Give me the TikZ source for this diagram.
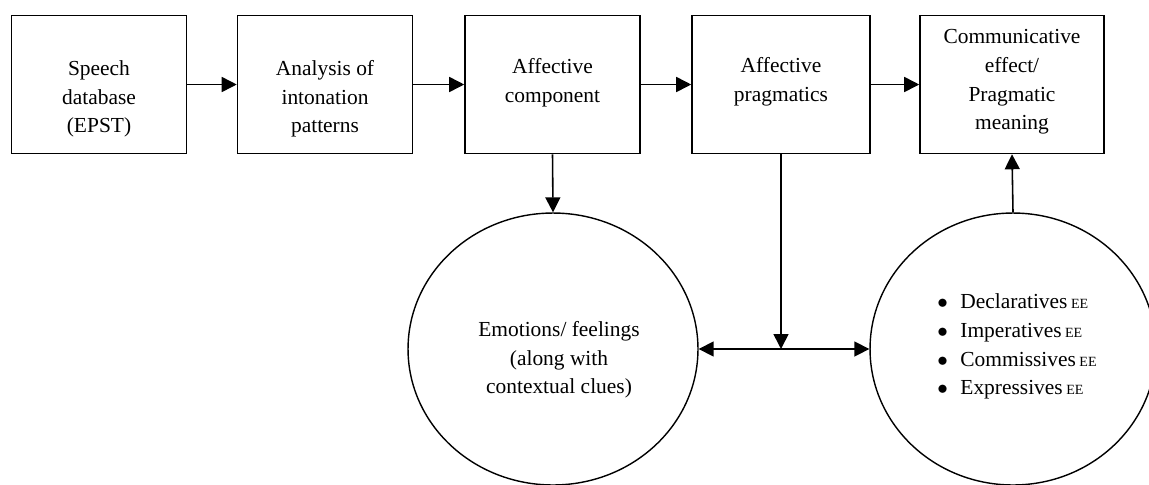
\documentclass[tikz,border=0pt]{standalone}
\usepackage{fontspec}
\setmainfont{Liberation Serif}
\usepackage{tikz}
\usetikzlibrary{shapes.geometric}
\usetikzlibrary{arrows.meta}

\newcommand{\ee}{{\fontsize{8}{8}\selectfont\ EE}}

\begin{document}
\begin{tikzpicture}[x=0.02cm,y=-0.02cm,
        box/.style={draw,line width=0.9pt,minimum width=3.5cm,minimum height=2.76cm,inner sep=0pt},
        blob/.style={draw,ellipse,line width=0.8pt,minimum width=5.8cm,minimum height=5.44cm,inner sep=0pt},
        txt/.style={align=center,font=\fontsize{12.2}{16.3}\selectfont},
        arr/.style={line width=0.9pt,-{Triangle[length=0.3cm,width=0.3cm]}},
        dblarr/.style={line width=0.9pt,{Triangle[length=0.3cm,width=0.3cm]}-{Triangle[length=0.3cm,width=0.3cm]}}]
        \useasboundingbox (0,0) rectangle (1149,484);
        \node[box] (db) at (99,84.5) {};
        \node[box] (ana) at (325,84.5) {};
        \node[box] (comp) at (552.5,84.5) {};
        \node[box,minimum width=3.56cm] (prag) at (781,84.5) {};
        \node[box,minimum width=3.68cm] (eff) at (1012,84.5) {};
        \node[blob] (emo) at (553,349) {};
        \node[blob,minimum width=5.72cm] (acts) at (1013,349) {};
        \node[txt] (dbtxt) at (99,99) {Speech\\database\\(EPST)};
        \node[txt] (anatxt) at (325,99) {Analysis of\\intonation\\patterns};
        \node[txt] (comptxt) at (552.5,83) {Affective\\component};
        \node[txt] (pragtxt) at (781,82) {Affective\\pragmatics};
        \node[txt] (efftxt) at (1012,82) {Communicative\\effect/\\Pragmatic\\meaning};
        \node[txt] (emotxt) at (559,360) {Emotions/ feelings\\(along with\\contextual clues)};
        \node[txt] (actstxt) at (1017,346) {\begin{tabular}{@{}l@{\hspace{0.25cm}}l@{}}
            $\bullet$ & Declaratives\ee\\
            $\bullet$ & Imperatives\ee\\
            $\bullet$ & Commissives\ee\\
            $\bullet$ & Expressives\ee
        \end{tabular}};
        \coordinate (junc) at (781,349);
        \draw[arr] (db) -- (ana);
        \draw[arr] (ana) -- (comp);
        \draw[arr] (comp) -- (prag);
        \draw[arr] (prag) -- (eff);
        \draw[arr] (comp.south) -- (emo.north);
        \draw[arr] (prag.south) -- (junc);
        \draw[dblarr] (emo) -- (acts);
        \draw[arr] (acts.north) -- (eff.south);
    \end{tikzpicture}
\end{document}
